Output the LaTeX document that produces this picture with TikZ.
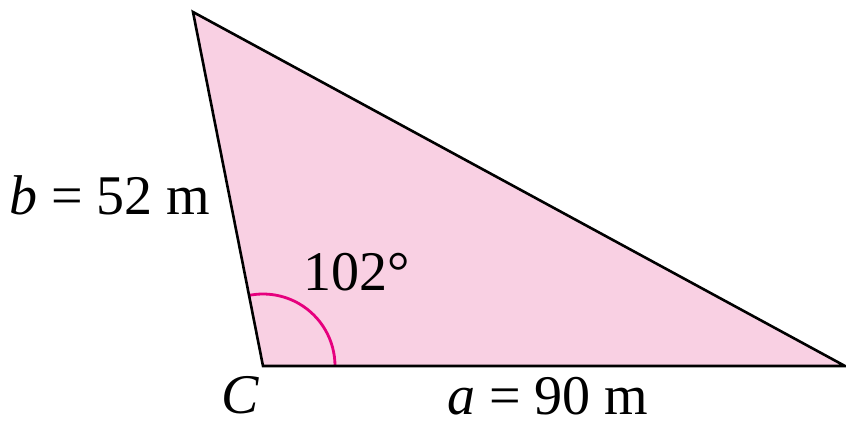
\documentclass[tikz,border=0pt]{standalone}
\usepackage{fontspec}
\setmainfont{Liberation Serif}
\definecolor{trifill}{HTML}{F9D0E3}
\definecolor{arcpink}{HTML}{E6007E}
\begin{document}
\begin{tikzpicture}[x=0.5pt,y=-0.5pt]
			\tikzset{lbl/.style={inner sep=0pt,font=\fontsize{28}{32}\selectfont}}
			\useasboundingbox (0,0) rectangle (846,425);
			\coordinate (A) at (193,12);
			\coordinate (C) at (263,366);
			\coordinate (B) at (845,366);
			\fill [trifill] (A) -- (C) -- (B) -- cycle;
			\draw [arcpink, line width=1.4pt] (C) ++(72,0) arc [start angle=0, end angle=-101.2, radius=72];
			\draw [black, line width=1.3pt, line join=miter] (A) -- (C) -- (B) -- cycle;
			\node [lbl] (bside) at (110,195) {\textit{b} = 52 m};
			\node [lbl] (angC) at (357,272) {102°};
			\node [lbl] (Clbl) at (240,395) {\textit{C}};
			\node [lbl] (aside) at (548,396) {\textit{a} = 90 m};
		\end{tikzpicture}
\end{document}
